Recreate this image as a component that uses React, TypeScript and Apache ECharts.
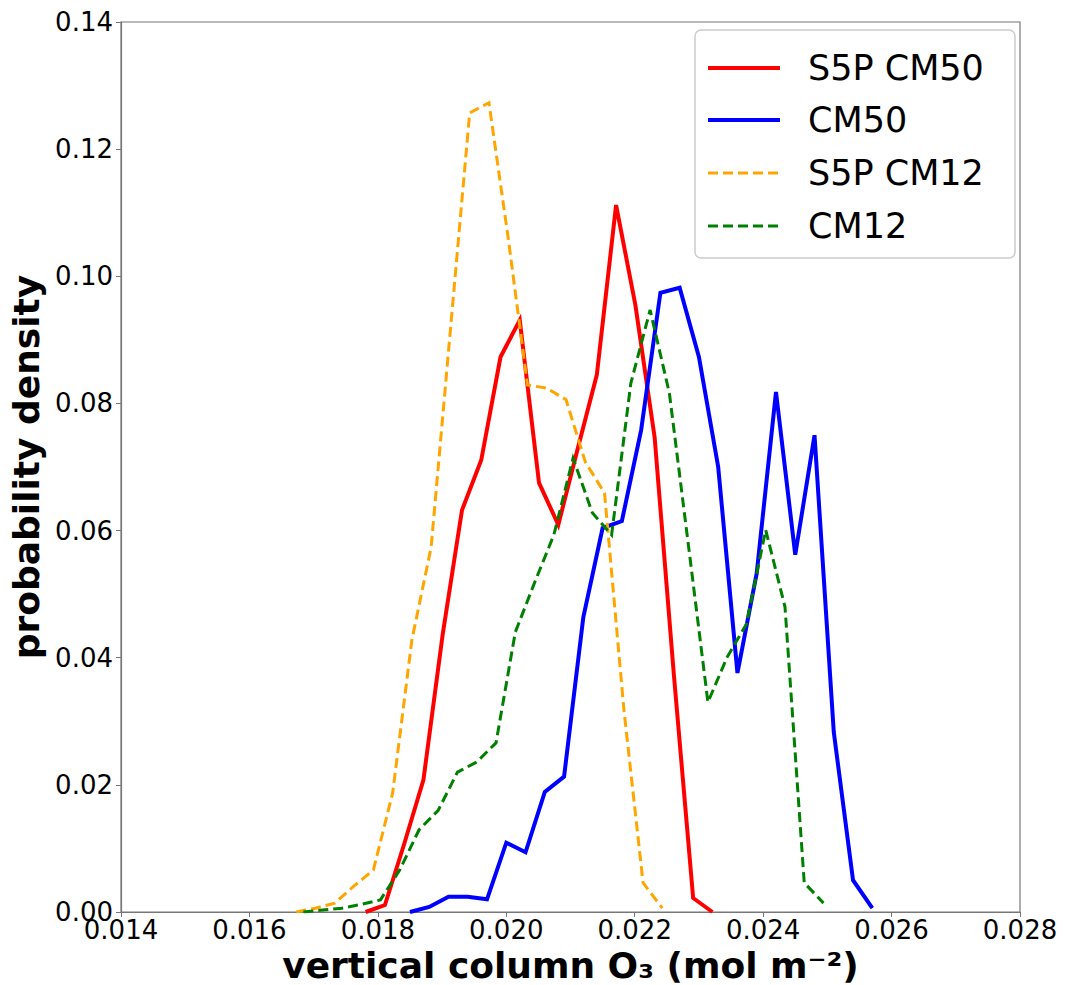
import React, { useEffect, useRef } from "react";
import * as echarts from "echarts";

// S5P CM50 (red, solid)
const s5pCm50X = [0.01781, 0.01811, 0.01841, 0.01871, 0.01901, 0.01931, 0.01961, 0.01991, 0.02021, 0.02051, 0.02081, 0.02111, 0.02141, 0.02171, 0.02201, 0.02231, 0.02261, 0.02291, 0.02321];
const s5pCm50Y = [0.0, 0.0011, 0.0107, 0.0208, 0.0437, 0.0632, 0.0711, 0.0873, 0.0931, 0.0675, 0.0609, 0.0728, 0.0845, 0.1112, 0.0955, 0.0747, 0.0373, 0.0022, 0.0];

// CM50 (blue, solid)
const cm50X = [0.0185, 0.0188, 0.0191, 0.0194, 0.0197, 0.02, 0.0203, 0.0206, 0.0209, 0.0212, 0.0215, 0.0218, 0.0221, 0.0224, 0.0227, 0.023, 0.0233, 0.0236, 0.0239, 0.0242, 0.0245, 0.0248, 0.0251, 0.0254, 0.0257];
const cm50Y = [0.0, 0.0008, 0.0024, 0.0024, 0.002, 0.0109, 0.0094, 0.0189, 0.0213, 0.0464, 0.0604, 0.0615, 0.0758, 0.0974, 0.0982, 0.0873, 0.07, 0.0376, 0.0533, 0.0818, 0.0562, 0.075, 0.0283, 0.005, 0.0006];

// S5P CM12 (orange, dashed)
const s5pCm12X = [0.01673, 0.01703, 0.01733, 0.01763, 0.01793, 0.01823, 0.01853, 0.01883, 0.01913, 0.01943, 0.01973, 0.02003, 0.02033, 0.02063, 0.02093, 0.02123, 0.02153, 0.02183, 0.02213, 0.02243];
const s5pCm12Y = [0.0, 0.0006, 0.0014, 0.0041, 0.0066, 0.0187, 0.0428, 0.0574, 0.0916, 0.1257, 0.1273, 0.106, 0.0829, 0.0824, 0.0806, 0.0708, 0.0659, 0.032, 0.0046, 0.0006];

// CM12 (green, dashed)
const cm12X = [0.01684, 0.01714, 0.01744, 0.01774, 0.01804, 0.01834, 0.01864, 0.01894, 0.01924, 0.01954, 0.01984, 0.02014, 0.02044, 0.02074, 0.02104, 0.02134, 0.02164, 0.02194, 0.02224, 0.02254, 0.02284, 0.02314, 0.02344, 0.02374, 0.02404, 0.02434, 0.02464, 0.02494];
const cm12Y = [0.0, 0.0003, 0.0006, 0.0012, 0.0019, 0.0066, 0.0129, 0.016, 0.022, 0.0236, 0.0266, 0.044, 0.0518, 0.0593, 0.0714, 0.0628, 0.0593, 0.0832, 0.0947, 0.0816, 0.0574, 0.033, 0.0401, 0.0453, 0.0601, 0.048, 0.0046, 0.0014];

const seriesNames = ["S5P CM50", "CM50", "S5P CM12", "CM12"];
const seriesColors = ["#ff0000", "#0000ff", "#ffa500", "#008000"];
const seriesDashed = [false, false, true, true];
const seriesX = [s5pCm50X, cm50X, s5pCm12X, cm12X];
const seriesY = [s5pCm50Y, cm50Y, s5pCm12Y, cm12Y];

const FONT = "'DejaVu Sans', sans-serif";

export default function App() {
  const ref = useRef<HTMLDivElement>(null);
  useEffect(() => {
    if (!ref.current) return;
    document.body.style.margin = "0";
    const chart = echarts.init(ref.current, null, { renderer: "svg", width: 1067, height: 985 });

    const series = seriesNames.map((name, i) => ({
      name,
      type: "line",
      data: seriesX[i].map((x, j) => [x, seriesY[i][j]]),
      showSymbol: false,
      symbol: "none",
      z: 2 + i,
      lineStyle: {
        color: seriesColors[i],
        width: seriesDashed[i] ? 3 : 4,
        type: seriesDashed[i] ? [10, 5] : "solid",
        cap: "butt",
        join: "miter",
      },
    }));

    const legendLeft = 695;
    const legendTop = 30;
    const rowY = [68, 120, 173, 226];
    const legendChildren: any[] = [
      {
        type: "rect",
        shape: { x: legendLeft, y: legendTop, width: 320, height: 228, r: 6 },
        style: { fill: "rgba(255,255,255,0.9)", stroke: "#cccccc", lineWidth: 1.5 },
        z: 100,
      },
    ];
    seriesNames.forEach((name, i) => {
      legendChildren.push({
        type: "line",
        shape: { x1: 708, y1: rowY[i], x2: 780, y2: rowY[i] },
        style: {
          stroke: seriesColors[i],
          lineWidth: seriesDashed[i] ? 3 : 4,
          lineDash: seriesDashed[i] ? [10, 5] : null,
        },
        z: 101,
      });
      legendChildren.push({
        type: "text",
        x: 808,
        y: rowY[i],
        style: {
          text: name,
          fontSize: 35,
          fontFamily: FONT,
          fill: "#000",
          verticalAlign: "middle",
        },
        z: 101,
      });
    });

    chart.setOption({
      animation: false,
      backgroundColor: "#ffffff",
      grid: {
        left: 121,
        top: 22,
        width: 899,
        height: 890,
        show: true,
        borderColor: "#777777",
        borderWidth: 1.2,
        containLabel: false,
        outerBoundsMode: "none",
      },
      xAxis: {
        type: "value",
        min: 0.014,
        max: 0.028,
        interval: 0.002,
        name: "vertical column O\u2083 (mol m\u207B\u00B2)",
        nameLocation: "middle",
        nameGap: 35,
        nameTextStyle: { fontSize: 36, fontWeight: "bold", fontFamily: FONT, color: "#000" },
        axisLine: { show: true, onZero: false, lineStyle: { color: "#777777", width: 1.2 } },
        axisTick: { show: true, length: 5, lineStyle: { color: "#777777" } },
        splitLine: { show: false },
        axisLabel: {
          fontSize: 26,
          fontFamily: FONT,
          color: "#000",
          margin: 5,
          formatter: (v: number) => v.toFixed(3),
        },
      },
      yAxis: {
        type: "value",
        min: 0,
        max: 0.14,
        interval: 0.02,
        name: "probability density",
        nameLocation: "middle",
        nameGap: 70,
        nameRotate: 90,
        nameTextStyle: { fontSize: 36, fontWeight: "bold", fontFamily: FONT, color: "#000" },
        axisLine: { show: true, lineStyle: { color: "#777777", width: 1.2 } },
        axisTick: { show: true, length: 5, lineStyle: { color: "#777777" } },
        splitLine: { show: false },
        axisLabel: {
          fontSize: 26,
          fontFamily: FONT,
          color: "#000",
          margin: 8,
          formatter: (v: number) => v.toFixed(2),
        },
      },
      series,
      graphic: [{ type: "group", children: legendChildren }],
    });

    return () => chart.dispose();
  }, []);

  return <div ref={ref} style={{ width: 1067, height: 985, background: "#fff" }} />;
}
